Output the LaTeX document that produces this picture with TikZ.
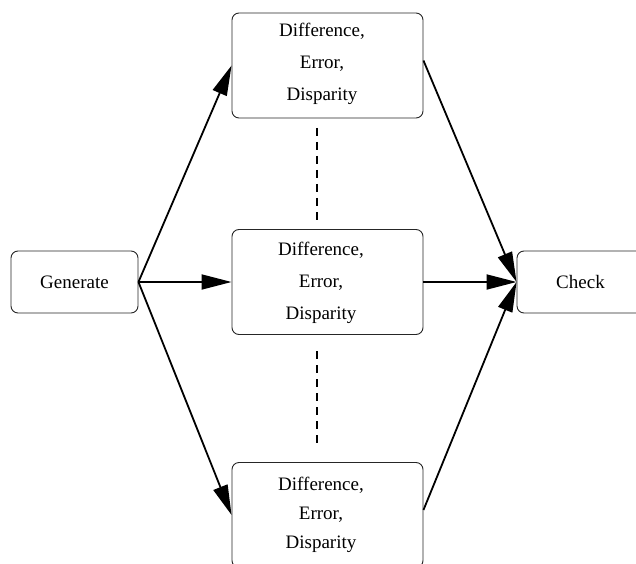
\documentclass[tikz,border=0pt]{standalone}
\usepackage{fontspec}
\setmainfont{Liberation Serif}
\usetikzlibrary{arrows.meta}
\begin{document}
\begin{tikzpicture}[x=1pt,y=1pt,
  box/.style={draw=black!85,line width=0.9pt,rounded corners=7pt,minimum width=191pt,minimum height=105pt,inner sep=0pt},
  smallbox/.style={draw=black!85,line width=0.9pt,rounded corners=7pt,minimum width=127pt,minimum height=62pt,inner sep=0pt,font=\fontsize{19}{23}\selectfont},
  txt/.style={align=center,inner sep=0pt,font=\fontsize{19}{32}\selectfont},
  conn/.style={line width=1.8pt,-{Triangle[length=30pt,width=15pt]}},
  plain/.style={line width=1.8pt},
  dots/.style={line width=1.8pt,dash pattern=on 8pt off 6pt}]
\useasboundingbox (0,0) rectangle (636,563);
\node[smallbox] (gen) at (74.5,281) {Generate};
\node[smallbox] (chk) at (580.5,281) {Check};
\node[box] (top) at (327.5,497.5) {};
\node[box] (mid) at (327.5,281) {};
\node[box] (bot) at (327.5,48) {};
\node[txt] (toptxt) at (322,499) {Difference,\\Error,\\Disparity};
\node[txt] (midtxt) at (321,280) {Difference,\\Error,\\Disparity};
\node[txt,font=\fontsize{19}{29}\selectfont] (bottxt) at (321,48) {Difference,\\Error,\\Disparity};
\coordinate (d1a) at (317,435);
\coordinate (d1b) at (317,341);
\coordinate (d2a) at (317,212);
\coordinate (d2b) at (317,118);
\draw[dots] (d1a) -- (d1b);
\draw[dots] (d2a) -- (d2b);
\draw[conn] (gen.east) -- (top.west);
\draw[conn] (gen.east) -- (mid.west);
\draw[conn] (gen.east) -- (bot.west);
\draw[conn] ([yshift=5pt]top.east) -- (chk.west);
\draw[conn] (mid.east) -- (chk.west);
\draw[conn] ([yshift=5pt]bot.east) -- (chk.west);
\end{tikzpicture}
\end{document}
